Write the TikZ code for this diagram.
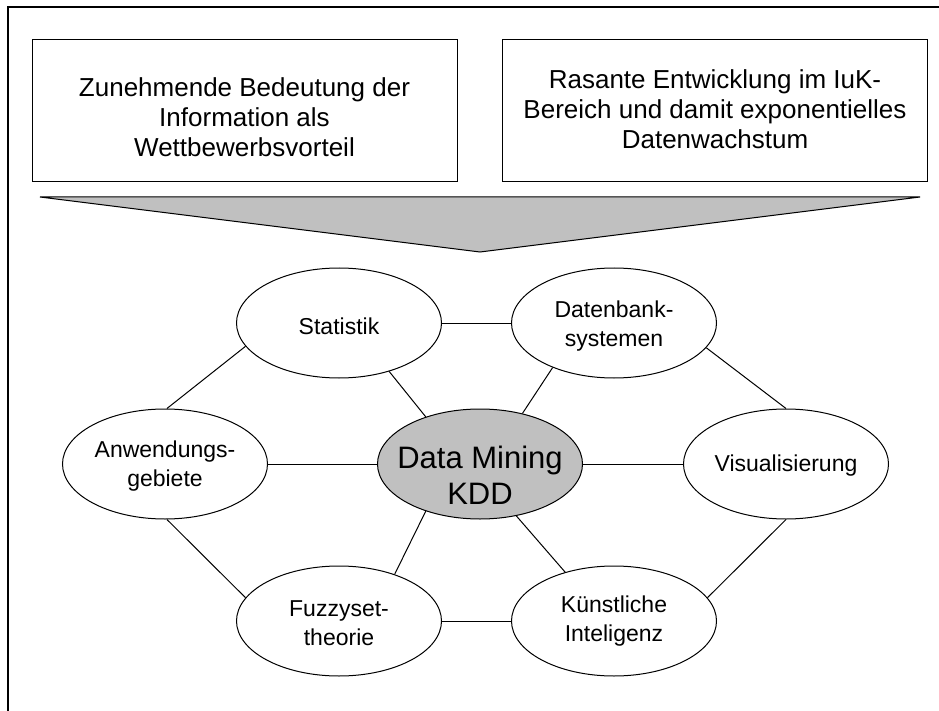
\documentclass[tikz,border=0pt]{standalone}
\usepackage{fontspec}
\setmainfont{Liberation Sans}
\usetikzlibrary{shapes.geometric}
\definecolor{fillgray}{HTML}{C0C0C0}
\begin{document}
\begin{tikzpicture}[x=1pt,y=-1pt,
  topbox/.style={draw, line width=1pt, rectangle, minimum width=425pt, minimum height=142pt, inner sep=0pt},
  boxtext/.style={align=center, inner sep=0pt, font=\fontsize{26}{30}\selectfont},
  bubble/.style={draw, line width=1pt, ellipse, minimum width=205pt, minimum height=110pt, inner sep=0pt, fill=white},
  bubtext/.style={align=center, inner sep=0pt, font=\fontsize{23}{29}\selectfont},
  core/.style={bubble, fill=fillgray},
  coretext/.style={align=center, inner sep=0pt, font=\fontsize{31}{36}\selectfont},
  link/.style={line width=1pt}]
\useasboundingbox (0,0) rectangle (939,711);
\fill[white] (0,0) rectangle (939,711);
% frame
\draw[line width=2pt] (8,711) -- (8,7) -- (939,7);
% top boxes
\node[topbox] (b1) at (244.5,111) {};
\node[boxtext] (t1) at (244.5,117) {Zunehmende Bedeutung der\\Information als\\Wettbewerbsvorteil};
\node[topbox] (b2) at (715,111) {};
\node[boxtext] (t2) at (715,109) {Rasante Entwicklung im IuK-\\Bereich und damit exponentielles\\Datenwachstum};
% funnel triangle
\coordinate (tl) at (40,197);
\coordinate (tr) at (920,197);
\coordinate (tp) at (480,252);
\draw[line width=1pt, fill=fillgray, line join=miter] (tl) -- (tr) -- (tp) -- cycle;
% bubbles
\node[bubble] (stat) at (339,323) {};
\node[bubtext] (statt) at (339,326) {Statistik};
\node[bubble] (db) at (614,323) {};
\node[bubtext] (dbt) at (614,326) {Datenbank-\\systemen};
\node[bubble] (anw) at (165,464) {};
\node[bubtext] (anwt) at (165,466) {Anwendungs-\\gebiete};
\node[core] (dm) at (480,464) {};
\node[coretext] (dmt) at (480,475) {Data Mining\\KDD};
\node[bubble] (vis) at (786,464) {};
\node[bubtext] (vist) at (786,466) {Visualisierung};
\node[bubble] (fuz) at (339,621) {};
\node[bubtext] (fuzt) at (339,623) {Fuzzyset-\\theorie};
\node[bubble] (ki) at (614,621) {};
\node[bubtext] (kit) at (614,621) {K\"unstliche\\Inteligenz};
% connectors
\draw[link] (stat.east) -- (db.west);
\draw[link] (stat.194) -- (anw.88);
\draw[link] (stat.316) -- (dm.139);
\draw[link] (db.216) -- (dm.50);
\draw[link] (db.345) -- (vis.90);
\draw[link] (anw.east) -- (dm.west);
\draw[link] (dm.east) -- (vis.west);
\draw[link] (anw.272) -- (fuz.166);
\draw[link] (dm.221) -- (fuz.40);
\draw[link] (dm.305) -- (ki.135);
\draw[link] (fuz.east) -- (ki.west);
\draw[link] (vis.270) -- (ki.14);
\end{tikzpicture}
\end{document}
